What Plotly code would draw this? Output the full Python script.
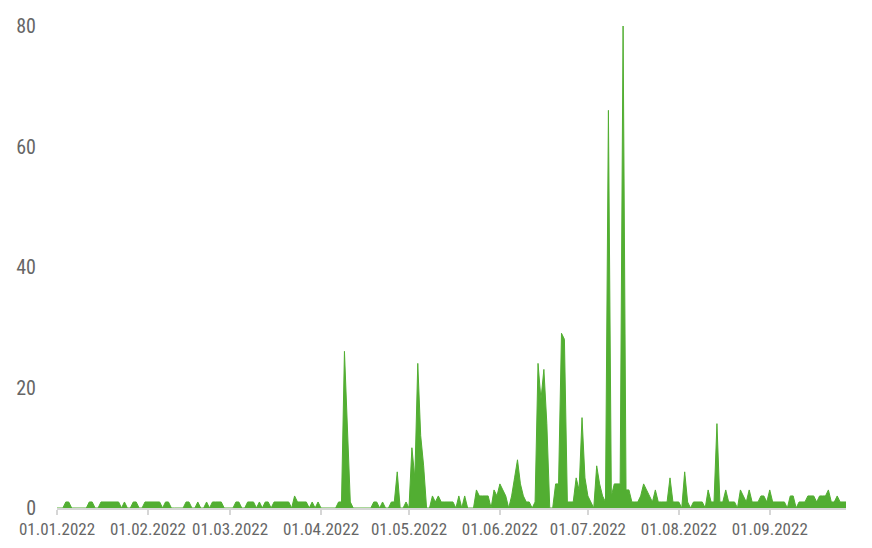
import plotly.graph_objects as go
import pandas as pd

# Daily values per month (2022)
jan = [0, 0, 0, 1, 1, 0, 0, 0, 0, 0, 0, 1, 1, 0, 0, 1, 1, 1, 1, 1, 1, 1, 0, 1, 0, 0, 1, 1, 0, 0, 1]
feb = [1, 1, 1, 1, 1, 0, 1, 1, 0, 0, 0, 0, 0, 1, 1, 0, 0, 1, 0, 0, 1, 0, 1, 1, 1, 1, 0, 0]
mar = [0, 0, 1, 1, 0, 0, 1, 1, 1, 0, 1, 0, 1, 1, 0, 1, 1, 1, 1, 1, 1, 0, 2, 1, 1, 1, 1, 0, 1, 0, 1]
apr = [0, 0, 0, 0, 0, 0, 1, 1, 26, 12, 1, 0, 0, 0, 0, 0, 0, 0, 1, 1, 0, 1, 0, 0, 1, 1, 6, 0, 0, 1]
may = [0, 10, 5, 24, 12, 7, 0, 0, 2, 1, 2, 1, 1, 1, 1, 1, 0, 2, 0, 2, 0, 0, 0, 3, 2, 2, 2, 2, 0, 3, 2]
jun = [4, 3, 2, 0, 2, 5, 8, 4, 2, 1, 1, 0, 1, 24, 18, 23, 14, 0, 0, 4, 4, 29, 28, 1, 1, 1, 5, 3, 15, 5]
jul = [2, 1, 0, 7, 4, 2, 1, 66, 2, 4, 4, 4, 80, 3, 3, 1, 1, 1, 2, 4, 3, 2, 1, 3, 1, 1, 1, 1, 5, 1, 1]
aug = [1, 0, 6, 1, 0, 1, 1, 1, 1, 0, 3, 1, 1, 14, 1, 1, 3, 1, 1, 1, 0, 3, 2, 1, 3, 1, 1, 1, 2, 2, 1]
sep = [3, 1, 1, 1, 1, 1, 0, 2, 2, 0, 1, 1, 1, 2, 2, 2, 1, 2, 2, 2, 3, 1, 1, 2, 1, 1, 1]

values = jan + feb + mar + apr + may + jun + jul + aug + sep
dates = pd.date_range("2022-01-01", periods=len(values), freq="D")

tick_dates = ["2022-01-01", "2022-02-01", "2022-03-01", "2022-04-01", "2022-05-01",
              "2022-06-01", "2022-07-01", "2022-08-01", "2022-09-01"]
tick_labels = ["01.01.2022", "01.02.2022", "01.03.2022", "01.04.2022", "01.05.2022",
               "01.06.2022", "01.07.2022", "01.08.2022", "01.09.2022"]
y_ticks = [0, 20, 40, 60, 80]

GREEN = "#52ae32"
TEXT = "#666666"
AXIS = "#d6d6d6"
FONT = "Roboto Condensed, Liberation Sans Narrow, DejaVu Sans Condensed, Roboto, sans-serif"

fig = go.Figure(go.Scatter(
    x=dates, y=values, mode="lines", fill="tozeroy",
    line=dict(color=GREEN, width=1), fillcolor=GREEN,
    hoverinfo="x+y",
))

fig.update_layout(
    width=856, height=532,
    margin=dict(l=49, r=18, t=18, b=32),
    paper_bgcolor="white", plot_bgcolor="white",
    showlegend=False,
    font=dict(family=FONT, color=TEXT),
    xaxis=dict(
        range=[dates[0], dates[-1]],
        tickvals=tick_dates, ticktext=tick_labels,
        tickfont=dict(size=17, color=TEXT, family=FONT),
        showgrid=False, zeroline=False, automargin=False,
        showline=True, linecolor=AXIS, linewidth=2,
        ticks="outside", ticklen=5, tickwidth=2, tickcolor=AXIS,
    ),
    yaxis=dict(
        range=[0, 80], tickvals=y_ticks,
        tickfont=dict(size=20, color=TEXT, family=FONT),
        showgrid=False, zeroline=False, showline=False, automargin=False,
        ticklabelstandoff=20,
    ),
)

fig.write_html("out.html")
